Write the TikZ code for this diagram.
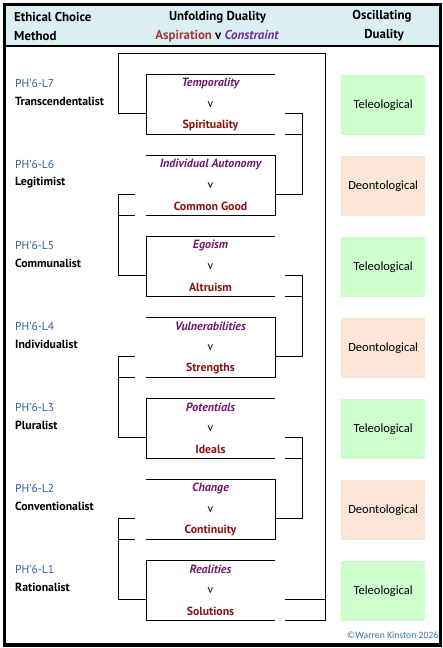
\documentclass[tikz,border=0pt]{standalone}
\usepackage{fontspec}
\setmainfont{PT Sans}
\newfontfamily\calib{Carlito}
\definecolor{hdr}{HTML}{DAEEF3}
\definecolor{asp}{HTML}{A33A3A}
\definecolor{con}{HTML}{7030A0}
\definecolor{toplab}{HTML}{6E1A6E}
\definecolor{botlab}{HTML}{8B1111}
\definecolor{phblue}{HTML}{2E5E9A}
\definecolor{tele}{HTML}{CCFFCC}
\definecolor{deon}{HTML}{FBE5D6}
\definecolor{copyc}{HTML}{2E75B6}
\tikzset{
  hdrtxt/.style={font=\fontsize{12.9}{14}\selectfont\bfseries, inner sep=0pt},
  toptxt/.style={font=\fontsize{12}{14}\selectfont\bfseries\itshape, text=toplab, inner sep=0pt},
  vtxt/.style={font=\fontsize{11.5}{13}\selectfont, inner sep=0pt},
  bottxt/.style={font=\fontsize{11.8}{14}\selectfont\bfseries, text=botlab, inner sep=0pt},
  phtxt/.style={font=\fontsize{11.5}{13}\selectfont, text=phblue, anchor=west, inner sep=0pt},
  nametxt/.style={font=\fontsize{11.8}{13}\selectfont\bfseries, anchor=west, inner sep=0pt},
  osc/.style={minimum width=84pt, minimum height=60.5pt, inner sep=0pt, anchor=north west, font=\calib\fontsize{12.5}{14}\selectfont},
  ln/.style={line width=1pt, black},
}
\begin{document}
\begin{tikzpicture}[x=1pt,y=-1pt]
\useasboundingbox (0,0) rectangle (443,648);
\fill[hdr] (4.5,4.5) rectangle (440.5,46);
\draw[line width=1.5pt] (4.5,46) -- (440.5,46);
\draw[line width=3.5pt] (4.5,4.5) rectangle (440.5,645);
% header
\node[hdrtxt, anchor=west] (h1) at (14,17) {Ethical Choice};
\node[hdrtxt, anchor=west] (h2) at (14,36.5) {Method};
\node[hdrtxt] (h3) at (217.5,17) {Unfolding Duality};
\node[hdrtxt] (h4) at (217,36.5) {\textcolor{asp}{Aspiration} v \textcolor{con}{\itshape Constraint}};
\node[hdrtxt] (h5) at (382,16) {Oscillating};
\node[hdrtxt] (h6) at (384,35.5) {Duality};
% rows
\foreach \i/\ph/\nm/\tl/\bl/\osc/\oc in {
  1/L7/Transcendentalist/Temporality/Spirituality/Teleological/tele,
  2/L6/Legitimist/Individual Autonomy/Common Good/Deontological/deon,
  3/L5/Communalist/Egoism/Altruism/Teleological/tele,
  4/L4/Individualist/Vulnerabilities/Strengths/Deontological/deon,
  5/L3/Pluralist/Potentials/Ideals/Teleological/tele,
  6/L2/Conventionalist/Change/Continuity/Deontological/deon,
  7/L1/Rationalist/Realities/Solutions/Teleological/tele}{
  \pgfmathsetmacro{\T}{74.3+81*(\i-1)}
  \node[phtxt] (ph\i) at (15,\T+9) {PH'6-\ph};
  \node[nametxt] (nm\i) at (15,\T+27) {\nm};
  \node[toptxt] (tl\i) at (210.5,\T+9.5) {\tl};
  \node[vtxt] (v\i) at (210.5,\T+30) {v};
  \node[bottxt] (bl\i) at (210.5,\T+51) {\bl};
  \node[osc, fill=\oc] (os\i) at (341,\T) {\osc};
  \coordinate (tl-\i) at (146,\T);
  \coordinate (tr-\i) at (275,\T);
  \coordinate (bl-\i) at (146,\T+60);
  \coordinate (br-\i) at (275,\T+60);
  \coordinate (ml-\i) at (146,\T+39);
  \coordinate (mr-\i) at (275,\T+39);
}
% boxes: odd open right, even open left
\foreach \i in {1,3,5,7}{
  \draw[ln] (tr-\i) -- (tl-\i) -- (bl-\i) -- (br-\i);
}
\foreach \i in {2,4,6}{
  \draw[ln] (tl-\i) -- (tr-\i) -- (br-\i) -- (bl-\i);
}
% right brackets
\foreach \i/\j in {1/2,3/4,5/6}{
  \draw[ln] ([xshift=10pt]mr-\i) -- ([xshift=27pt]mr-\i) |- (mr-\j);
  \draw[ln] ([xshift=10pt]br-\i) -- ([xshift=27pt]br-\i);
}
% left brackets
\foreach \i/\j in {2/3,4/5,6/7}{
  \draw[ln] ([xshift=-11pt]ml-\i) -- ([xshift=-28pt]ml-\i) |- (ml-\j);
  \draw[ln] ([xshift=-11pt]bl-\i) -- ([xshift=-28pt]bl-\i);
}
% outer loop
\coordinate (lt) at (118,53.3);
\coordinate (rt) at (325.7,53.3);
\draw[ln] (ml-1) -- ([xshift=-28pt]ml-1) -- (lt) -- (rt) |- ([xshift=10pt]br-7);
\draw[ln] ([xshift=10pt]mr-7) -- (rt |- mr-7);
% copyright
\node[font=\calib\fontsize{9.7}{11}\selectfont, text=copyc, anchor=east, inner sep=0pt] (cp) at (438.5,635) {©Warren Kinston 2026};
\end{tikzpicture}
\end{document}
